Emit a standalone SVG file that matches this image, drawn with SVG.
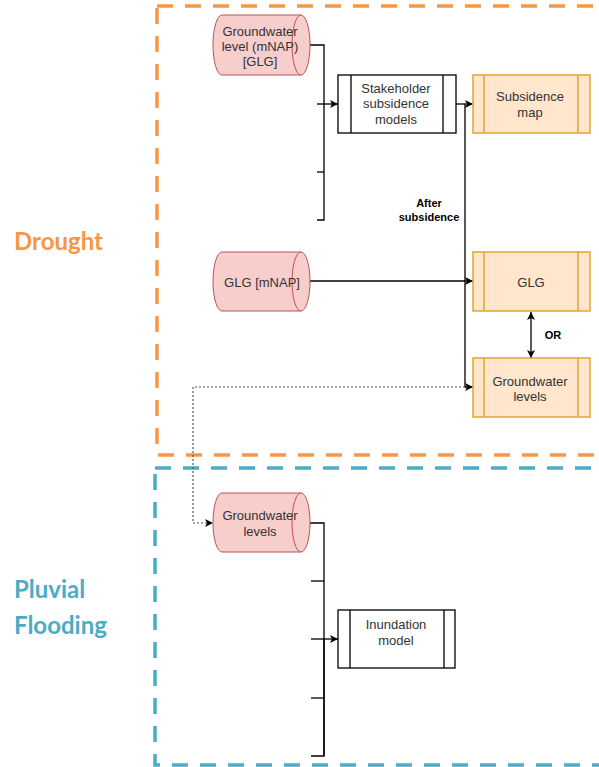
<svg xmlns="http://www.w3.org/2000/svg" width="599" height="767" viewBox="0 0 599 767">
  <style>
    .zone-drought { fill: none; stroke: #f79646; stroke-width: 3.5; stroke-dasharray: 16 12; }
    .zone-flood { fill: none; stroke: #4bacc6; stroke-width: 3.5; stroke-dasharray: 16 12; }
    .zone-label { font-family: Lato, "Open Sans", sans-serif; font-weight: bold; font-size: 24px; }
    .cyl { fill: #f8cecc; stroke: #b85450; stroke-width: 1; }
    .proc { fill: #ffffff; stroke: #000000; stroke-width: 1.3; }
    .proc-out { fill: #ffe6cc; stroke: #e2a72e; stroke-width: 1.5; }
    .lbl { font-family: "Liberation Sans", Arial, sans-serif; font-size: 13px; fill: #333333; text-anchor: middle; }
    .bold { font-family: "Liberation Sans", Arial, sans-serif; font-size: 11px; font-weight: bold; fill: #000000; text-anchor: middle; }
    .wire { fill: none; stroke: #000000; stroke-width: 1.3; }
    .dotted { fill: none; stroke: #555555; stroke-width: 1.2; stroke-dasharray: 2 2; }
  </style>
  <defs>
    <marker id="arrow" viewBox="0 0 8 8" refX="8" refY="4" markerWidth="8" markerHeight="8" markerUnits="userSpaceOnUse" orient="auto-start-reverse">
      <path d="M0,0 L8,4 L0,8 L2,4 Z" fill="#000000"/>
    </marker>
  </defs>

  <!-- hazard zones -->
  <g id="zone-drought">
    <rect class="zone-drought" x="157" y="6" width="470" height="449"/>
    <text class="zone-label" x="14" y="250" fill="#f79646">Drought</text>
  </g>
  <g id="zone-pluvial">
    <rect class="zone-flood" x="155" y="468" width="470" height="297"/>
    <text class="zone-label" x="14" y="598" fill="#4bacc6">Pluvial</text>
    <text class="zone-label" x="14" y="634" fill="#4bacc6">Flooding</text>
  </g>

  <!-- connectors -->
  <g id="connectors">
    <!-- bracket collecting inputs for the subsidence models -->
    <path class="wire" d="M310,45 H324 V220 H317"/>
    <path class="wire" d="M317,172 H324"/>
    <path class="wire" d="M317,104 H338" marker-end="url(#arrow)"/>
    <!-- subsidence models to map -->
    <path class="wire" d="M456,104 H473" marker-end="url(#arrow)"/>
    <!-- after subsidence branch -->
    <path class="wire" d="M465,104 V387 H473" marker-end="url(#arrow)"/>
    <path class="wire" d="M310,281 H473" marker-end="url(#arrow)"/>
    <!-- either / or -->
    <path class="wire" d="M531,312 V358" marker-start="url(#arrow)" marker-end="url(#arrow)"/>
    <!-- groundwater levels passed on to flooding -->
    <path class="dotted" d="M465,387 H193 V523 H213" marker-end="url(#arrow)"/>
    <!-- bracket collecting inputs for the inundation model -->
    <path class="wire" d="M310,523 H324 V756 H311"/>
    <path class="wire" d="M311,581 H324"/>
    <path class="wire" d="M311,698 H324"/>
    <path class="wire" d="M324,639 V756" stroke-width="2.4"/>
    <path class="wire" d="M311,639 H338" marker-end="url(#arrow)"/>
    <text class="bold" x="429" y="207">After</text>
    <text class="bold" x="429" y="221">subsidence</text>
    <text class="bold" x="553" y="339">OR</text>
  </g>

  <!-- data stores -->
  <g id="gw-level-glg">
    <path class="cyl" d="M222,15 L301,15 A9,30 0 0 1 301,75 L222,75 A9,30 0 0 1 222,15 Z"/>
    <path class="cyl" d="M301,15 A9,30 0 0 0 301,75" fill="none"/>
    <text class="lbl" x="260" y="36">Groundwater</text>
    <text class="lbl" x="260" y="51">level (mNAP)</text>
    <text class="lbl" x="260" y="66">[GLG]</text>
  </g>
  <g id="glg-mnap">
    <path class="cyl" d="M222,252 L301,252 A9,29.5 0 0 1 301,311 L222,311 A9,29.5 0 0 1 222,252 Z"/>
    <path class="cyl" d="M301,252 A9,29.5 0 0 0 301,311" fill="none"/>
    <text class="lbl" x="262" y="286.5">GLG [mNAP]</text>
  </g>
  <g id="gw-levels-in">
    <path class="cyl" d="M222,493 L301,493 A9,29.5 0 0 1 301,552 L222,552 A9,29.5 0 0 1 222,493 Z"/>
    <path class="cyl" d="M301,493 A9,29.5 0 0 0 301,552" fill="none"/>
    <text class="lbl" x="260" y="519.5">Groundwater</text>
    <text class="lbl" x="260" y="535.5">levels</text>
  </g>

  <!-- processes -->
  <g id="stakeholder-models">
    <rect class="proc" x="338" y="75" width="118" height="58"/>
    <path class="proc" d="M351,75 V133 M443,75 V133"/>
    <text class="lbl" x="396" y="92.5">Stakeholder</text>
    <text class="lbl" x="396" y="108">subsidence</text>
    <text class="lbl" x="396" y="123.5">models</text>
  </g>
  <g id="inundation-model">
    <rect class="proc" x="338" y="610" width="117" height="58"/>
    <path class="proc" d="M350,610 V668 M444,610 V668"/>
    <text class="lbl" x="396" y="628.5">Inundation</text>
    <text class="lbl" x="396" y="644.5">model</text>
  </g>

  <!-- outputs -->
  <g id="subsidence-map">
    <rect class="proc-out" x="473" y="75" width="117" height="58"/>
    <path class="proc-out" d="M484,75 V133 M578,75 V133"/>
    <text class="lbl" x="530" y="100.5">Subsidence</text>
    <text class="lbl" x="530" y="116.5">map</text>
  </g>
  <g id="glg-out">
    <rect class="proc-out" x="473" y="252" width="117" height="59"/>
    <path class="proc-out" d="M484,252 V311 M578,252 V311"/>
    <text class="lbl" x="531" y="286.5">GLG</text>
  </g>
  <g id="gw-levels-out">
    <rect class="proc-out" x="473" y="358" width="117" height="59"/>
    <path class="proc-out" d="M484,358 V417 M578,358 V417"/>
    <text class="lbl" x="530" y="385.5">Groundwater</text>
    <text class="lbl" x="530" y="400.5">levels</text>
  </g>
</svg>
